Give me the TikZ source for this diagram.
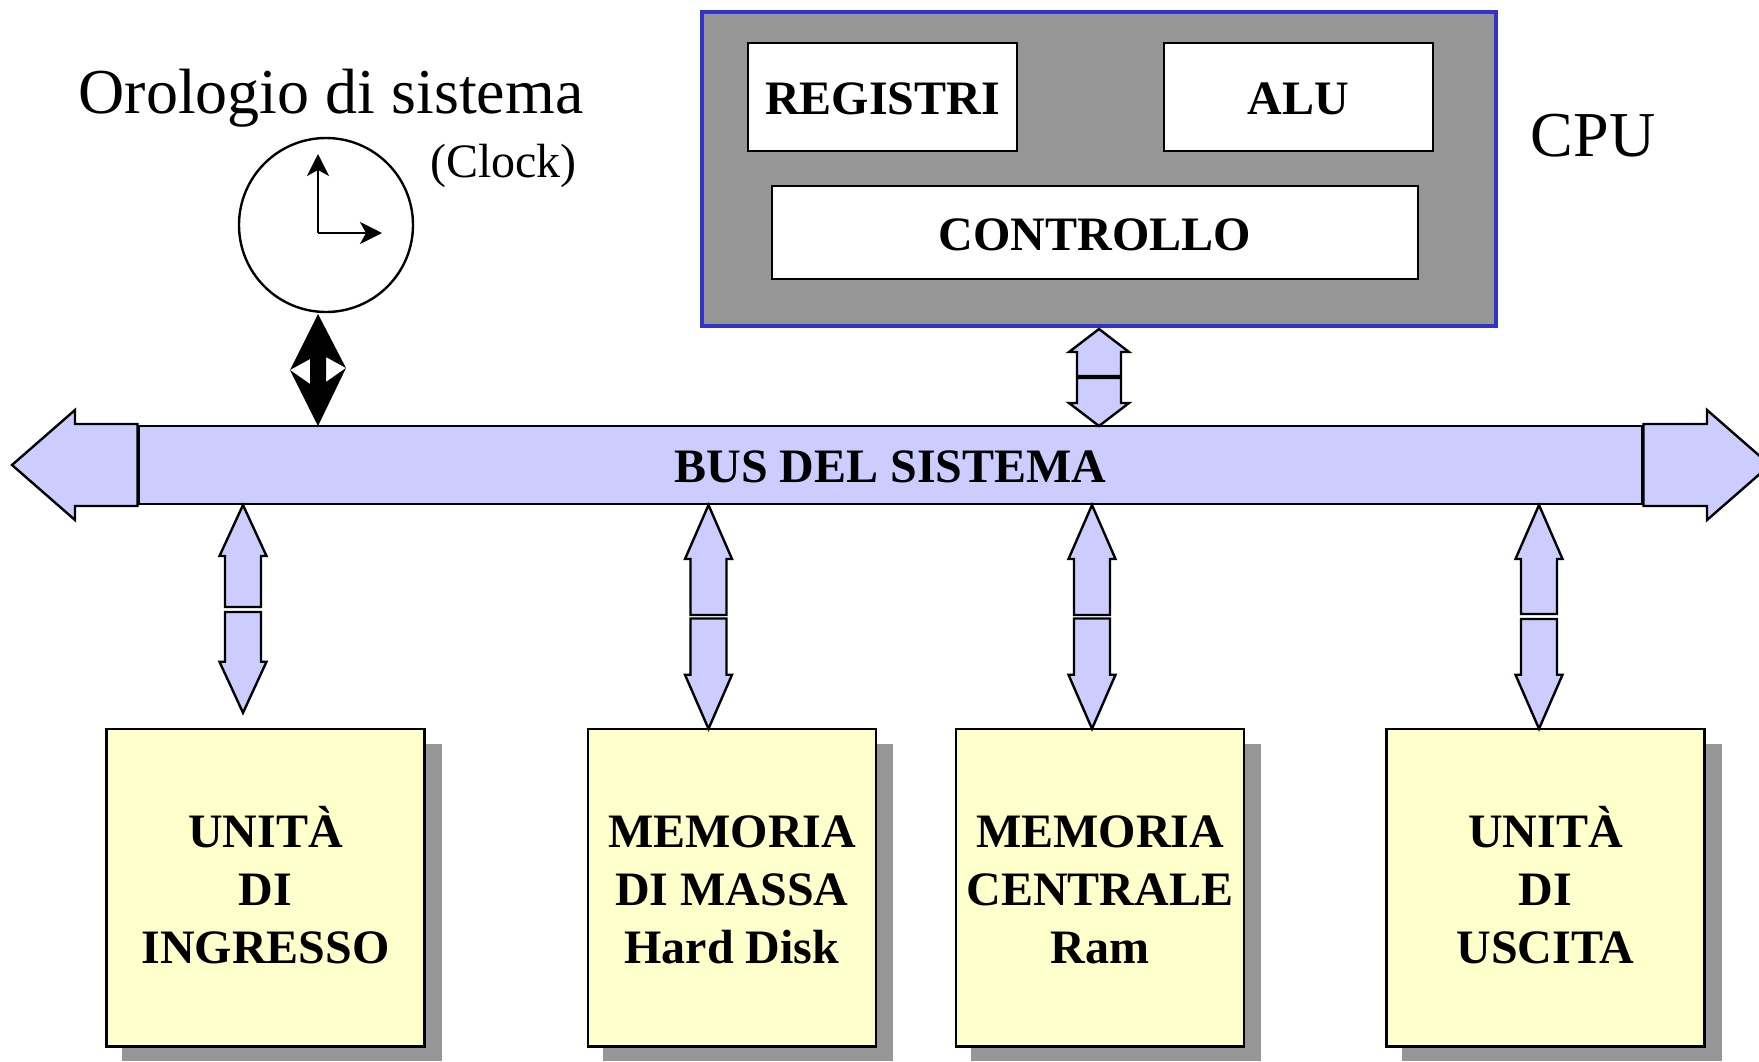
\documentclass[tikz,border=0pt]{standalone}
\usepackage{fontspec}
\setmainfont{Liberation Serif}
\usetikzlibrary{positioning,calc,backgrounds,arrows.meta}
\definecolor{busblue}{HTML}{CCCCFF}
\definecolor{boxyellow}{HTML}{FFFFCC}
\definecolor{cpugray}{HTML}{969696}
\definecolor{cpublue}{HTML}{3333CC}
\newcommand{\blockarrow}[5]{% start, tip, half shaft, half head, head length
  \coordinate (ba) at ($(#2)!#5!(#1)$);
  \draw[arrowline] ($(#1)!#3!-90:(#2)$) -- ($(ba)!#3!-90:(#2)$) -- ($(ba)!#4!-90:(#2)$) -- (#2)
    -- ($(ba)!#4!90:(#2)$) -- ($(ba)!#3!90:(#2)$) -- ($(#1)!#3!90:(#2)$) -- cycle;
}
\newcommand{\topstrut}{\rule{0pt}{37pt}}
\begin{document}
\begin{tikzpicture}[x=1pt,y=-1pt,outer sep=0pt,inner sep=0pt]
  \tikzstyle{arrowline}=[draw=black,fill=busblue,line width=2.4pt]
  \tikzstyle{boxtext}=[font=\fontsize{48}{58}\selectfont\bfseries,align=center]
  \tikzstyle{plain}=[font=\fontsize{64}{70}\selectfont]
  \tikzstyle{cpubox}=[draw=black,fill=white,line width=2.2pt,boxtext,execute at begin node={\rule{0pt}{36pt}}]
  \tikzstyle{unit}=[draw=black,fill=boxyellow,line width=2.5pt,minimum height=317.5pt,boxtext]
  \tikzstyle{accented}=[unit,execute at end node={\rule[-4.4pt]{0pt}{0pt}}]
  \clip (0,0) rectangle (1759,1061);

  % cpu
  \node[draw=cpublue,fill=cpugray,line width=4.5pt,minimum width=794pt,minimum height=314pt] (cpu) at (1099,169) {};
  \node[cpubox,minimum width=269pt,minimum height=108pt] (reg) at (882.5,97) {REGISTRI};
  \node[cpubox,minimum width=269pt,minimum height=108pt,right=147pt of reg] (alu) {ALU};
  \node[cpubox,minimum width=646pt,minimum height=93pt] (ctrl) at (1095,232.5) {CONTROLLO};
  \node[plain] (cpulabel) at (1593,136) {CPU};

  % clock
  \node[plain] (clocktitle) at (331,98) {Orologio di sistema};
  \node[font=\fontsize{48}{54}\selectfont] (clocknote) at (503.5,166) {(Clock)};
  \node[circle,draw=black,line width=2.4pt,minimum size=174pt] (clock) at (326,225) {};
  \coordinate (pivot) at (318,233);
  \draw[line width=2pt,-{Stealth[length=22pt,width=22pt,inset=6pt]}] (pivot) -- (318,154);
  \draw[line width=2pt,-{Stealth[length=22pt,width=22pt,inset=6pt]}] (pivot) -- (382,233);

  % bus
  \node[draw=black,fill=busblue,line width=2.5pt,minimum width=1503pt,minimum height=78pt,boxtext,execute at begin node={\rule{0pt}{36pt}}] (bus) at (890.5,465) {BUS DEL SISTEMA};
  \coordinate (busleft) at (12,465);
  \coordinate (busright) at (1770,465);
  \coordinate (busw) at ($(bus.west)+(-1.5,0)$);
  \coordinate (buse) at ($(bus.east)+(1.5,0)$);
  \blockarrow{busw}{busleft}{41pt}{55pt}{63pt}
  \blockarrow{buse}{busright}{41pt}{55pt}{63pt}

  % units
  \node[accented,minimum width=318pt] (in) at (265.5,887.5) {UNIT\`A\\DI\\INGRESSO};
  \node[unit,minimum width=288pt,right=163.5pt of in] (hd) {\topstrut MEMORIA\\DI MASSA\\Hard Disk};
  \node[unit,minimum width=288pt,right=80pt of hd] (ram) {\topstrut MEMORIA\\CENTRALE\\Ram};
  \node[accented,minimum width=318pt,right=142.5pt of ram] (out) {UNIT\`A\\DI\\USCITA};
  \begin{pgfonlayer}{background}
    \foreach \bx in {in,hd,ram,out}
      \fill[cpugray] ([shift={(15,15)}]\bx.north west) rectangle ([shift={(17,15)}]\bx.south east);
  \end{pgfonlayer}

  % links to the bus
  \foreach \bx/\xx/\ub/\lt/\gap/\hl in {in/243/607/612/16/51,hd/708.5/615/618.5/0/54,ram/1092/615/618.5/0/54,out/1539/614/619/0/54}{
    \coordinate (up) at ($(bus.south -| \xx,0)+(0,1)$);
    \coordinate (dn) at ($(\bx.north -| \xx,0)+(0,-\gap)$);
    \coordinate (upstart) at (\xx,\ub);
    \coordinate (dnstart) at (\xx,\lt);
    \blockarrow{upstart}{up}{18pt}{23.5pt}{\hl pt}
    \blockarrow{dnstart}{dn}{18pt}{23.5pt}{\hl pt}
  }

  % cpu link
  \coordinate (cputip) at ($(cpu.south -| 1099,0)+(0,3)$);
  \coordinate (bustip) at (bus.north -| 1099,0);
  \coordinate (cpuup) at (1099,376);
  \coordinate (cpudn) at (1099,378);
  \blockarrow{cpuup}{cputip}{22pt}{30pt}{23pt}
  \blockarrow{cpudn}{bustip}{22pt}{30pt}{23pt}

  % clock link
  \coordinate (clktop) at ($(clock.south -| 318,0)+(0,2)$);
  \coordinate (clkbot) at (bus.north -| 318,0);
  \fill[black] (clktop) -- ++(28,54) -- ++(-20,-11) -- ++(0,25) -- ++(20,-14) -- (clkbot)
    -- ++(-28,-56) -- ++(20,14) -- ++(0,-25) -- ++(-20,11) -- cycle;
\end{tikzpicture}
\end{document}
